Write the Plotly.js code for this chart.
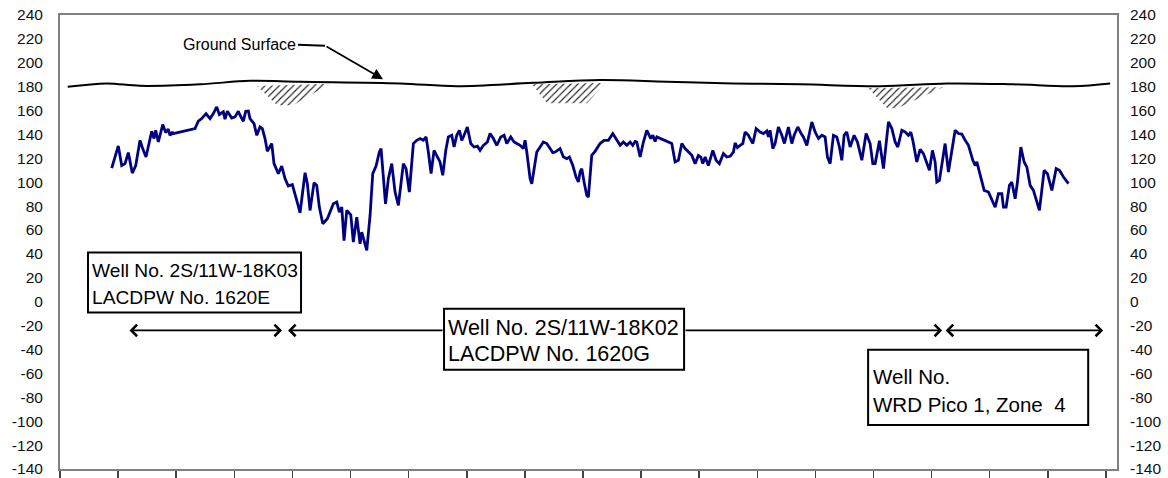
<!DOCTYPE html>
<html>
<head>
<meta charset="utf-8">
<script src="https://cdn.plot.ly/plotly-3.0.1.min.js"></script>
<style>html,body{margin:0;padding:0;background:#fff;}#chart{width:1168px;height:478px;}</style>
</head>
<body>
<div id="chart"></div>
<script>
// Water level hydrograph (time in axis-interval units, elevation in ft)
var wellTime = [0.890,1.003,1.062,1.119,1.176,1.244,1.303,1.377,1.423,1.480,1.578,1.618,1.647,1.692,1.768,1.819,1.864,1.893,1.940,1.950,
2.324,2.380,2.439,2.513,2.582,2.639,2.697,2.742,2.811,2.840,2.880,2.955,3.012,3.069,3.098,3.155,3.196,3.241,3.270,3.339,3.386,3.442,3.482,3.528,3.568,3.644,3.683,3.757,3.816,3.873,3.929,3.998,
4.074,4.131,4.217,4.257,4.303,4.372,4.418,4.463,4.522,4.601,4.704,4.763,4.807,4.849,4.888,4.935,5.004,5.048,5.107,5.164,5.193,5.279,5.336,5.382,5.439,5.496,5.525,
5.602,5.651,5.709,5.766,5.823,5.909,5.955,6.012,6.081,6.140,6.196,6.253,6.300,6.339,6.386,6.437,6.494,6.540,6.587,6.639,6.683,6.742,6.782,6.828,6.873,6.914,6.954,
7.010,7.069,7.126,7.183,7.229,7.286,7.355,7.401,7.458,7.516,7.585,7.642,7.689,7.757,7.814,7.861,7.917,7.974,8.003,8.033,8.090,8.119,8.158,8.205,8.262,8.318,8.377,8.434,8.480,8.520,
8.606,8.663,8.721,8.766,8.825,8.881,8.921,8.950,8.979,9.019,9.065,9.093,9.151,9.208,9.294,9.363,9.437,9.513,9.582,9.639,9.696,9.754,9.811,9.857,9.897,9.926,9.983,
10.040,10.098,10.167,10.201,10.241,10.270,10.327,10.413,10.528,10.585,10.642,10.701,10.757,10.873,10.930,10.986,11.028,11.062,11.102,11.158,11.234,11.291,11.348,
11.417,11.475,11.532,11.589,11.618,11.657,11.704,11.750,11.790,11.847,11.923,11.980,12.048,12.105,12.164,12.191,12.220,12.267,12.306,12.363,12.422,12.467,12.535,12.594,12.634,12.697,12.754,12.793,12.852,
12.938,12.995,13.052,13.110,13.167,13.207,13.253,13.310,13.368,13.413,13.454,13.494,13.540,13.597,13.666,13.723,13.799,13.873,13.941,13.988,14.028,14.102,14.171,
14.257,14.315,14.372,14.418,14.487,14.544,14.601,14.642,14.676,14.745,14.802,14.859,14.962,15.014,15.060,15.089,15.134,15.232,15.289,
15.404,15.461,15.520,15.577,15.634,15.709,15.749,15.778,15.835,15.904,15.978,16.053,16.093,16.150,16.208,16.236,16.282,16.339,16.380,16.437,16.477,
16.535,16.592,16.639,16.695,16.752,16.855,16.936,16.993,17.069,17.143,17.200,17.269,17.355];
var waterLevel = [111.9,130.4,114,115.6,124.8,107.7,114,135.1,128.2,121.1,142.7,136.6,143.5,133.7,148.3,141.6,144.4,139.3,142.1,140.8,
145,151.1,153.3,157.5,153.3,157.5,163.1,156.7,158.9,152.8,159.5,153.8,154.7,159.5,156.1,151.1,159.5,159.7,153.3,149.1,139.3,146.3,145,136.6,125.9,132.4,115.6,107.2,113.6,103,96.8,98,
84.8,74.5,108,98.8,76.4,99.7,97.4,79.2,65.3,69.4,82,83.4,75,79.2,51.2,76.4,72.8,49.9,70.8,48.5,58.2,42.9,72.2,107.2,113.6,125.3,128.2,
82,103,115.6,91.8,80.6,115.6,111.4,91.8,132.4,135.1,136.6,135.1,137.9,125.3,107.2,126.7,121.1,117,105.8,126.7,137.9,139.3,129.5,139.3,143.5,135.1,139.3,
146.3,132.4,129.5,130.2,126.7,130.9,133.7,140.8,136.6,130.9,137.9,139.3,132.4,137.9,133.7,132.4,130.9,128.2,135.1,125.3,103,98.8,110,125.3,129.5,133.7,132.4,128.2,124.8,125.3,
128.2,121.1,119.8,121.1,114,104.4,100.2,108.6,111.4,100.2,89,87.6,122.5,125.9,132.4,135.1,135.1,140.8,135.1,130.9,133.7,130.9,133.7,130.9,134.2,133.7,121.1,
133.7,143.5,136.6,139.3,134.2,137.9,136.6,135.1,132.4,117,118.4,132.4,128.2,122.5,115.6,122.5,121.1,115.6,121.1,114,126.7,118.4,115.6,
124,121.1,121.7,125.3,132.9,129,130.9,132.4,142.1,139.3,132.4,145,142.1,140.8,143,137.9,143.5,128.2,132.4,146.3,139.3,132.4,146.3,132.4,139.3,146.3,140.8,137.9,130.9,
150.5,142.1,136.6,139.3,137.9,121.1,115.6,139.3,137.9,129.5,118.4,139.3,142.1,129.5,139.3,133.7,118.4,140.8,132.4,115.6,115.6,134.8,111.4,
150.5,145,133.7,129.5,143.5,142.1,139.3,142.1,135.1,117,127.6,124,110,126.7,117,100.2,101.6,132.4,108.6,
143.5,140.8,140.3,135.1,130.9,118.4,114,117,105.8,93.2,91.8,83.4,79.2,90.4,90.4,79.2,79.2,97.4,100.2,86.2,100.2,
129.5,117,112.7,97.4,93.2,76.4,110,107.2,93.2,111.4,110,104.4,98.8];

// Ground surface elevation profile
var groundTime = [0.133,0.804,1.377,2.410,3.270,4.131,5.852,6.828,8.141,9.294,10.442,11.583,12.737,14.114,15.262,16.403,17.435,18.072];
var groundElev = [179.9,182.7,180.7,182.0,184.9,184.1,182.7,180.4,183.2,185.5,184.1,182.7,182.0,180.4,182.7,182.0,180.4,182.7];

// Hatched depressions beneath the ground surface
var hatch1Time = [3.391,3.735,4.010,4.647,3.391];
var hatch1Elev = [180.5,164.5,164.5,182.5,180.5];
var hatch2Time = [8.124,8.382,9.071,9.380,8.124];
var hatch2Elev = [182.0,166.2,166.2,183.0,182.0];
var hatch3Time = [13.907,14.234,14.406,15.198,13.907];
var hatch3Elev = [178.8,162.0,162.0,179.5,178.8];

// Well record spans (start, end) along the time axis
var spanStart = [1.170, 3.924, 15.215];
var spanEnd = [3.821, 15.181, 17.952];
var spanLevel = -24;

// Y tick values and labels (hyphen minus as in the original)
var yTicks = [];
var yTickText = [];
for (var t = -140; t <= 240; t += 20) { yTicks.push(t); yTickText.push(String(t)); }

var FONT = 'Arial, "Liberation Sans", sans-serif';

function hatchTrace(xs, ys) {
  return {x: xs, y: ys, type: 'scatter', mode: 'lines', fill: 'toself',
    line: {width: 0, color: 'rgba(0,0,0,0)'}, fillcolor: 'rgba(0,0,0,0)',
    fillpattern: {shape: '/', fgcolor: '#222', bgcolor: 'rgba(0,0,0,0)', size: 5, solidity: 0.22},
    hoverinfo: 'skip', showlegend: false};
}

var traces = [
  hatchTrace(hatch1Time, hatch1Elev),
  hatchTrace(hatch2Time, hatch2Elev),
  hatchTrace(hatch3Time, hatch3Elev),
  {x: groundTime, y: groundElev, type: 'scatter', mode: 'lines',
   line: {color: '#000', width: 2, shape: 'spline', smoothing: 1}, showlegend: false},
  {x: wellTime, y: waterLevel, type: 'scatter', mode: 'lines',
   line: {color: '#000080', width: 2.8}, showlegend: false},
  {x: [0], y: [0], yaxis: 'y2', type: 'scatter', mode: 'markers', marker: {opacity: 0}, showlegend: false, hoverinfo: 'skip'}
];

var xr = 18.19;

var annotations = [];
var shapes = [];
function arrow(head, tail, heads) {
  annotations.push({x: head, y: spanLevel, ax: tail, ay: spanLevel, xref: 'x', yref: 'y', axref: 'x', ayref: 'y',
    text: '', showarrow: true, arrowhead: 4, startarrowhead: 4, arrowside: heads, arrowsize: 1.4, startarrowsize: 1.4,
    arrowwidth: 1.6, arrowcolor: '#000', standoff: 0, startstandoff: 0});
}
arrow(spanEnd[0], spanStart[0], 'end+start');
arrow(spanStart[1], 6.609, 'end');
arrow(spanEnd[1], 10.740, 'end');
arrow(spanEnd[2], spanStart[2], 'end+start');

function box(x0, x1, y0, y1) {
  shapes.push({type: 'rect', xref: 'x', yref: 'y', x0: x0, x1: x1, y0: y0, y1: y1,
    line: {color: '#000', width: 2}, fillcolor: '#fff', layer: 'above'});
}
box(0.482, 4.148, 41.2, -9.1);
box(6.609, 10.740, -5.8, -57.0);
box(13.907, 17.694, -40.2, -103.2);

function label(x, y, txt, size) {
  annotations.push({x: x, y: y, xref: 'x', yref: 'y', text: txt, showarrow: false,
    xanchor: 'left', yanchor: 'middle', font: {family: FONT, size: size, color: '#000'}});
}
label(0.510, 26.3, 'Well No. 2S/11W-18K03', 19.2);
label(0.510, 3.7, 'LACDPW No. 1620E', 19.2);
label(6.650, -21.7, 'Well No. 2S/11W-18K02', 21.5);
label(6.650, -43.6, 'LACDPW No. 1620G', 21.5);
label(13.955, -62.8, 'Well No.', 20.5);
label(13.955, -86.3, 'WRD Pico 1, Zone&nbsp;&nbsp;4', 20.5);
label(2.080, 215.7, 'Ground Surface', 16);

shapes.push({type: 'line', xref: 'x', yref: 'y', x0: 4.096, y0: 215.2, x1: 4.561, y1: 214.3,
  line: {color: '#000', width: 2}});
annotations.push({x: 5.559, y: 186.3, ax: 4.561, ay: 214.3, xref: 'x', yref: 'y', axref: 'x', ayref: 'y',
  text: '', showarrow: true, arrowhead: 2, arrowsize: 1.2, arrowwidth: 1.8, arrowcolor: '#000', standoff: 0});

var layout = {
  width: 1168, height: 478,
  margin: {l: 60, r: 51, t: 15, b: 9},
  paper_bgcolor: '#fff', plot_bgcolor: '#fff',
  showlegend: false,
  font: {family: FONT, size: 15, color: '#111'},
  xaxis: {range: [0, xr], tick0: 0, dtick: 1, ticks: 'outside', ticklen: 7, tickwidth: 1.5, tickcolor: '#444',
    showticklabels: false, showgrid: false, zeroline: false, showline: true, linecolor: '#808080', linewidth: 2, mirror: true},
  yaxis: {range: [-140, 240], tickvals: yTicks, ticktext: yTickText, ticks: '', showgrid: false, zeroline: false,
    showline: true, linecolor: '#808080', linewidth: 2, mirror: true, ticklabelstandoff: 12,
    tickfont: {family: FONT, size: 15.5, color: '#111'}},
  yaxis2: {range: [-140, 240], tickvals: yTicks, ticktext: yTickText, overlaying: 'y', side: 'right', ticks: '', showgrid: false,
    zeroline: false, showline: false, ticklabelstandoff: 12, tickfont: {family: FONT, size: 15.5, color: '#111'}},
  shapes: shapes,
  annotations: annotations
};

Plotly.newPlot('chart', traces, layout, {staticPlot: true, displayModeBar: false});
</script>
</body>
</html>
